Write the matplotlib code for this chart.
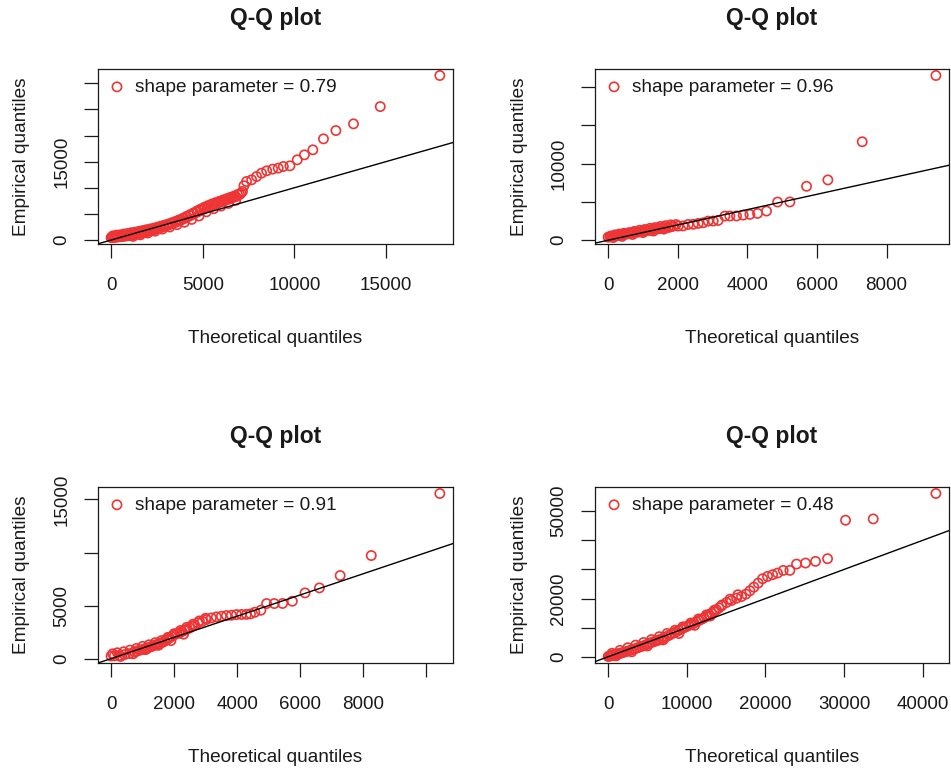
import matplotlib.pyplot as plt

plt.rcParams['font.family'] = ['Liberation Sans', 'DejaVu Sans']

# panel 1 (top left): main track + spread of the dense band
x1 = [0, 60, 120, 180, 250, 320, 400, 480, 560, 650, 740, 830, 920, 1020, 1120, 1220,
      1330, 1440, 1550, 1670, 1790, 1910, 2040, 2170, 2300, 2440, 2580, 2720, 2870, 3020,
      3170, 3330, 3490, 3650, 3820, 3990, 4160, 4340, 4520, 4700, 4880, 5060, 5250, 5440,
      5630, 5820, 6010, 6210, 6410, 6610, 6810, 7010, 7170, 7250, 7390, 7670, 7940, 8210,
      8490, 8820, 9120, 9400, 9760, 10160, 10550, 11010, 11590, 12270, 13230, 14690, 17940]
y1 = [480, 500, 520, 540, 560, 590, 620, 650, 680, 720, 760, 800, 850, 900, 960, 1020,
      1090, 1170, 1260, 1360, 1460, 1570, 1690, 1810, 1940, 2080, 2230, 2390, 2560, 2740,
      2930, 3130, 3350, 3580, 3830, 4100, 4380, 4680, 5000, 5330, 5650, 5950, 6250, 6550,
      6800, 7050, 7300, 7550, 7800, 8050, 8300, 8700, 9300, 10400, 11200, 11520, 12150, 12800,
      13240, 13570, 13760, 14070, 14200, 15350, 16300, 17260, 19360, 20950, 22230, 25530, 31480]
x1b = [100, 300, 500, 700, 900, 1100, 1300, 1500, 1700, 1900, 2100, 2300, 2500, 2700, 2900,
       3100, 3300, 3500, 3700, 3900, 4100, 4300, 4500, 4700, 4900, 5100, 5300, 5500, 5700,
       5900, 6100, 6300, 6500, 6700, 6900, 7100,
       1200, 1600, 2000, 2400, 2800, 3200, 3600, 4000, 4400, 4800, 5200, 5600, 6000, 6400, 6800]
y1b = [800, 950, 1000, 1150, 1250, 1400, 1500, 1650, 1800, 1950, 2100, 2250, 2450, 2650, 2850,
       3050, 3300, 3550, 3850, 4150, 4500, 4850, 5200, 5600, 5950, 6300, 6600, 6900, 7150,
       7400, 7650, 7900, 8150, 8400, 8700, 9000,
       700, 1000, 1350, 1700, 2100, 2500, 2950, 3400, 3950, 4600, 5400, 6000, 6500, 7000, 7600]

# panel 2 (top right)
x2 = [0, 49, 100, 145, 190, 240, 290, 336, 385, 432, 500, 576, 650, 719, 790, 863, 935,
      1007, 1080, 1151, 1220, 1294, 1365, 1438, 1510, 1582, 1650, 1725, 1800, 1869, 2013,
      2156, 2300, 2444, 2588, 2731, 2875, 3019, 3162, 3354, 3498, 3689, 3881, 4072, 4293,
      4551, 4868, 5222, 5701, 6314, 7301, 9418]
y2 = [400, 443, 480, 531, 575, 618, 640, 662, 705, 749, 790, 837, 900, 968, 1010, 1056, 1120,
      1187, 1230, 1275, 1340, 1405, 1450, 1493, 1560, 1624, 1640, 1660, 1750, 1843, 1850,
      1870, 2062, 2080, 2193, 2281, 2499, 2510, 2587, 3155, 3160, 3170, 3286, 3373, 3505,
      3811, 4991, 5000, 7047, 7878, 12863, 21521]
x2b = [80, 200, 320, 450, 600, 750, 900, 1050, 1200, 1350, 1500, 1650, 1800, 1950,
       150, 400, 700, 1000, 1300, 1600]
y2b = [550, 700, 800, 900, 1000, 1150, 1300, 1400, 1550, 1650, 1800, 1900, 2000, 2050,
       350, 500, 750, 1000, 1200, 1450]

# panel 3 (bottom left)
x3 = [0, 105, 264, 424, 583, 742, 820, 901, 980, 1060, 1140, 1219, 1300, 1378, 1460, 1538,
      1620, 1697, 1780, 1856, 1930, 2015, 2095, 2174, 2250, 2333, 2410, 2492, 2580, 2652,
      2758, 2896, 3023, 3182, 3341, 3500, 3659, 3818, 3978, 4137, 4296, 4423, 4561, 4752,
      4933, 5177, 5442, 5750, 6153, 6609, 7267, 8254, 10429]
y3 = [240, 260, 300, 376, 470, 628, 700, 785, 850, 910, 990, 1068, 1160, 1257, 1330, 1413,
      1520, 1634, 1800, 1948, 2100, 2263, 2350, 2420, 2550, 2672, 2780, 2892, 3050, 3143,
      3364, 3521, 3678, 3835, 3930, 3992, 4056, 4087, 4150, 4160, 4170, 4213, 4370, 4559,
      5188, 5190, 5200, 5408, 6194, 6666, 7829, 9716, 15566]
x3b = [50, 200, 400, 600, 800, 1000, 1200, 1400, 1600, 1800, 2000, 2200, 2400, 2600, 2800, 3000,
       300, 700, 1100, 1500, 1900, 2300]
y3b = [450, 550, 650, 800, 950, 1150, 1300, 1500, 1700, 2000, 2350, 2650, 2950, 3250, 3550, 3800,
       200, 450, 850, 1250, 1700, 2300]

# panel 4 (bottom right)
x4 = [0, 150, 300, 450, 600, 800, 1064, 1300, 1500, 1700, 2000, 2336, 2650, 2972, 3300,
      3608, 3900, 4244, 4550, 4880, 5200, 5516, 5830, 6152, 6470, 6788, 7100, 7424, 7750,
      8060, 8380, 8696, 9000, 9332, 9650, 9968, 10300, 10604, 10920, 11240, 11560, 11876,
      12200, 12512, 12830, 13148, 13460, 13784, 14100, 14420, 15056, 15692, 16328, 16964,
      17515, 18024, 18533, 19084, 19635, 20271, 20907, 21543, 22264, 23112, 23960, 25105,
      26377, 27903, 30193, 33712, 41683]
y4 = [100, 200, 330, 450, 560, 700, 900, 1050, 1180, 1300, 1550, 1800, 2100, 2350, 2650,
      2950, 3250, 3550, 3850, 4150, 4600, 4900, 5200, 5500, 5800, 6100, 6500, 6923, 7400,
      7842, 8250, 8646, 9100, 9565, 9950, 10370, 10800, 11174, 11600, 12093, 12500, 12898,
      13350, 13817, 14400, 14966, 15500, 16115, 16800, 17494, 18643, 19332, 20137, 20711,
      21515, 22665, 23928, 25307, 26801, 27605, 28179, 28754, 29673, 29680, 31857, 32201,
      32776, 33695, 46908, 47368, 56100]
x4b = [500, 1500, 2500, 3500, 4500, 5500, 6500, 7500, 8500, 9500, 10500, 11500, 12500, 13500,
       14500, 15500, 16500, 1000, 3000, 5000, 7000, 9000, 11000, 13000]
y4b = [1200, 2200, 3100, 4000, 4900, 5900, 6900, 8000, 9100, 10300, 11600, 13000, 14400, 16000,
       17800, 19800, 21300, 300, 1700, 3700, 5800, 8000, 10800, 14000]

shapes = ['0.79', '0.96', '0.91', '0.48']

xticks = [[0, 5000, 10000, 15000],
          [0, 2000, 4000, 6000, 8000],
          [0, 2000, 4000, 6000, 8000, 10000],
          [0, 10000, 20000, 30000, 40000]]
xlabels = [['0', '5000', '10000', '15000'],
           ['0', '2000', '4000', '6000', '8000'],
           ['0', '2000', '4000', '6000', '8000', ''],
           ['0', '10000', '20000', '30000', '40000']]
yticks = [[0, 5000, 10000, 15000, 20000, 25000, 30000],
          [0, 5000, 10000, 15000, 20000],
          [0, 5000, 10000, 15000],
          [0, 10000, 20000, 30000, 40000, 50000]]
ylabels = [['0', '', '', '15000', '', '', ''],
           ['0', '', '10000', '', ''],
           ['0', '5000', '', '15000'],
           ['0', '', '20000', '', '', '50000']]

rects = [[0.1030, 0.6839, 0.3733, 0.2267],
         [0.6257, 0.6839, 0.3722, 0.2267],
         [0.1030, 0.1412, 0.3733, 0.2280],
         [0.6257, 0.1412, 0.3722, 0.2280]]

red = '#ee3434'
ink = '#1a1a1a'

fig = plt.figure(figsize=(9.51, 7.72), dpi=100)

data = [(x1 + x1b, y1 + y1b), (x2 + x2b, y2 + y2b), (x3 + x3b, y3 + y3b), (x4 + x4b, y4 + y4b)]
for i, (x, y) in enumerate(data):
    ax = fig.add_axes(rects[i])
    ax.scatter(x, y, s=44, facecolors='none', edgecolors=red, linewidths=1.2,
               label='shape parameter = ' + shapes[i], zorder=2)
    ax.axline((0, 0), slope=1, color='black', lw=1.0, zorder=3)

    # R style 4% padding around the data
    xr = max(x) - min(x)
    yr = max(y) - min(y)
    ax.set_xlim(min(x) - 0.04 * xr, max(x) + 0.04 * xr)
    ax.set_ylim(min(y) - 0.04 * yr, max(y) + 0.04 * yr)

    ax.set_xticks(xticks[i], labels=xlabels[i])
    ax.set_yticks(yticks[i], labels=ylabels[i])
    ax.tick_params(direction='out', length=10, width=0.9, labelsize=13.5, colors=ink)
    ax.tick_params(axis='x', pad=14)
    ax.tick_params(axis='y', pad=10, labelrotation=90)
    for lbl in ax.get_yticklabels():
        lbl.set_va('center')
    for sp in ax.spines.values():
        sp.set_linewidth(0.9)
        sp.set_color(ink)

    ax.set_title('Q-Q plot', fontsize=16.5, fontweight='bold', pad=32, color=ink)
    ax.set_xlabel('Theoretical quantiles', fontsize=13.7, color=ink)
    ax.xaxis.set_label_coords(0.5, -0.537)
    ax.xaxis.label.set_va('center')
    ax.set_ylabel('Empirical quantiles', fontsize=13.7, color=ink)
    ax.yaxis.set_label_coords(-0.214, 0.5)
    ax.yaxis.label.set_va('center')

    leg = ax.legend(loc='upper left', frameon=False, fontsize=13.7, scatterpoints=1,
                    handlelength=1.0, handletextpad=0.45, borderpad=0.2,
                    borderaxespad=0.3)
    for t in leg.get_texts():
        t.set_color(ink)

fig.savefig('out.png', dpi=100)
